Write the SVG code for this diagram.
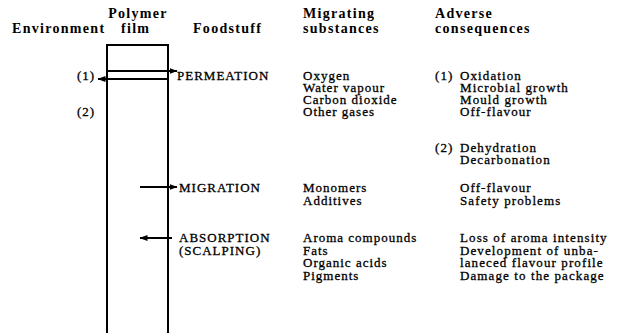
<svg xmlns="http://www.w3.org/2000/svg" width="619" height="333" viewBox="0 0 619 333">
<style>
text{font-family:"Liberation Serif","Times New Roman",serif;fill:#000}
.h{font-size:14px;font-weight:bold;letter-spacing:1.3px}
.t{font-size:13px;letter-spacing:1px;stroke:#000;stroke-width:0.3}
.c{font-size:13px;letter-spacing:1.1px;stroke:#000;stroke-width:0.3}
.ln{stroke:#000;stroke-width:2;fill:none}
</style>
<defs>
<marker id="ah" viewBox="0 0 8 6" refX="7.5" refY="3" markerWidth="8" markerHeight="6" markerUnits="userSpaceOnUse" orient="auto">
<path d="M0,0 L8,3 L0,6 Z" fill="#000"/>
</marker>
</defs>
<rect width="619" height="333" fill="#fff"/>
<g id="headers">
<text class="h" x="138" y="18" text-anchor="middle">Polymer</text>
<text class="h" x="12" y="33">Environment</text>
<text class="h" x="121" y="33">film</text>
<text class="h" x="193" y="33">Foodstuff</text>
<text class="h" x="303" y="18">Migrating</text>
<text class="h" x="303" y="33">substances</text>
<text class="h" x="435" y="18">Adverse</text>
<text class="h" x="435" y="33">consequences</text>
</g>
<g id="film">
<path class="ln" d="M107,333 V45 H168 V333"/>
</g>
<g id="environment">
<text class="t" x="77" y="80">(1)</text>
<text class="t" x="77" y="116">(2)</text>
</g>
<g id="foodstuff">
<text class="t" x="177" y="80">PERMEATION</text>
<text class="t" x="179" y="192">MIGRATION</text>
<text class="t" x="179" y="242">ABSORPTION</text>
<text class="t" x="179" y="255">(SCALPING)</text>
</g>
<g id="substances">
<text class="t" x="303" y="80">Oxygen</text>
<text class="t" x="303" y="92">Water vapour</text>
<text class="t" x="303" y="104">Carbon dioxide</text>
<text class="t" x="303" y="116">Other gases</text>
<text class="t" x="303" y="192">Monomers</text>
<text class="t" x="303" y="205">Additives</text>
<text class="t" x="303" y="242">Aroma compounds</text>
<text class="t" x="303" y="255">Fats</text>
<text class="t" x="303" y="267">Organic acids</text>
<text class="t" x="303" y="280">Pigments</text>
</g>
<g id="consequences">
<text class="c" x="435" y="80">(1)</text>
<text class="c" x="460" y="80">Oxidation</text>
<text class="c" x="460" y="92">Microbial growth</text>
<text class="c" x="460" y="104">Mould growth</text>
<text class="c" x="460" y="116">Off-flavour</text>
<text class="c" x="435" y="152">(2)</text>
<text class="c" x="460" y="152">Dehydration</text>
<text class="c" x="460" y="164">Decarbonation</text>
<text class="c" x="460" y="192">Off-flavour</text>
<text class="c" x="460" y="205">Safety problems</text>
<text class="c" x="460" y="242">Loss of aroma intensity</text>
<text class="c" x="460" y="255">Development of unba-</text>
<text class="c" x="460" y="267">laneced flavour profile</text>
<text class="c" x="460" y="280">Damage to the package</text>
</g>
<g id="connectors">
<line class="ln" x1="107" y1="71" x2="177" y2="71" marker-end="url(#ah)"/>
<line class="ln" x1="168" y1="79" x2="98" y2="79" marker-end="url(#ah)"/>
<line class="ln" x1="140" y1="187" x2="177" y2="187" marker-end="url(#ah)"/>
<line class="ln" x1="172" y1="238" x2="140" y2="238" marker-end="url(#ah)"/>
</g>
</svg>
